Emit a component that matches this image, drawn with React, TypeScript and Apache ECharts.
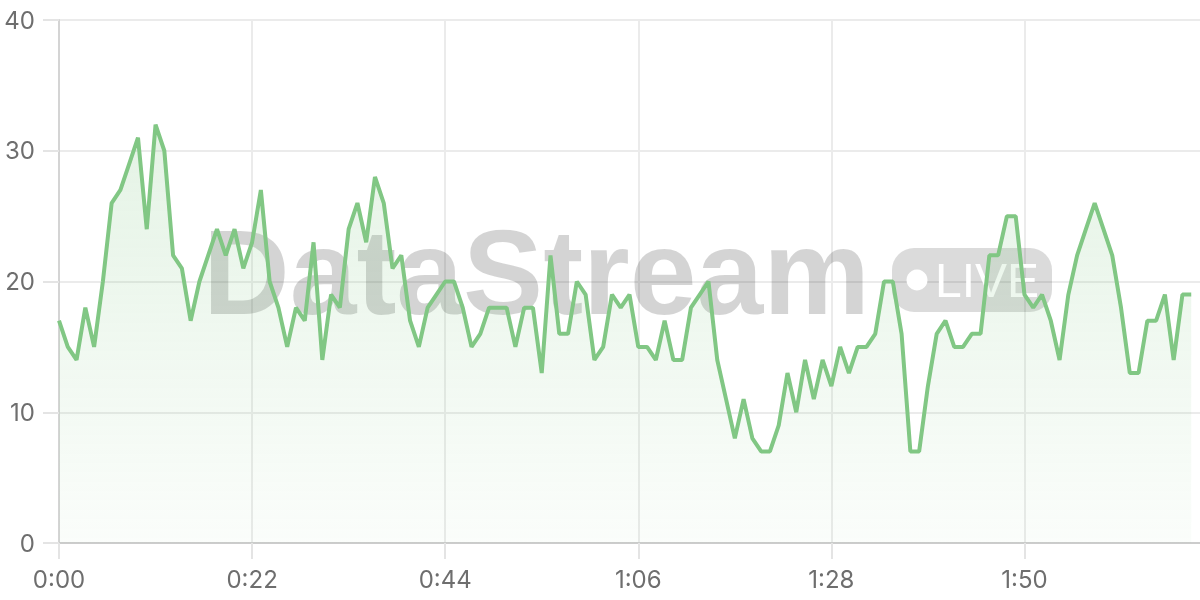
import React, { useEffect, useRef } from "react";
import * as echarts from "echarts";

// One reading per second, starting at 0:00
const VALUES: number[] = [
  17, 15, 14, 18, 15, 20, 26, 27, 29, 31,
  24, 32, 30, 22, 21, 17, 20, 22, 24, 22,
  24, 21, 23, 27, 20, 18, 15, 18, 17, 23,
  14, 19, 18, 24, 26, 23, 28, 26, 21, 22,
  17, 15, 18, 19, 20, 20, 18, 15, 16, 18,
  18, 18, 15, 18, 18, 13, 22, 16, 16, 20,
  19, 14, 15, 19, 18, 19, 15, 15, 14, 17,
  14, 14, 18, 19, 20, 14, 11, 8, 11, 8,
  7, 7, 9, 13, 10, 14, 11, 14, 12, 15,
  13, 15, 15, 16, 20, 20, 16, 7, 7, 12,
  16, 17, 15, 15, 16, 16, 22, 22, 25, 25,
  19, 18, 19, 17, 14, 19, 22, 24, 26, 24,
  22, 18, 13, 13, 17, 17, 19, 14, 19, 19,
];

// Time axis spans 0:00 .. 2:10 (one slot beyond the last reading)
const AXIS_SECONDS = 131;
const CATEGORIES: string[] = Array.from({ length: AXIS_SECONDS }, (_, s) =>
  `${Math.floor(s / 60)}:${String(s % 60).padStart(2, "0")}`
);
const LABEL_STEP = 22; // labels at 0:00, 0:22, 0:44, 1:06, 1:28, 1:50

const Y_MIN = 0;
const Y_MAX = 40;
const Y_STEP = 10;

const WATERMARK = "DataStream";
const BADGE = "LIVE";

const LINE_COLOR = "#81c784";
const LABEL_COLOR = "#6e6e6e";
const LABEL_FONT = "Inter, 'Noto Sans', sans-serif";

export default function App() {
  const ref = useRef<HTMLDivElement>(null);

  useEffect(() => {
    if (!ref.current) return;
    const chart = echarts.init(ref.current, null, { renderer: "svg" });
    chart.setOption({
      animation: false,
      grid: { left: 59, right: 0, top: 20, bottom: 57, containLabel: false },
      xAxis: {
        type: "category",
        data: CATEGORIES,
        boundaryGap: false,
        axisLine: { show: true, lineStyle: { color: "#cccccc", width: 2 } },
        axisTick: {
          show: true,
          length: 16,
          interval: LABEL_STEP - 1,
          lineStyle: { color: "#e4e4e4", width: 2 },
        },
        axisLabel: {
          interval: LABEL_STEP - 1,
          margin: 24,
          color: LABEL_COLOR,
          fontSize: 24,
          fontFamily: LABEL_FONT,
        },
        splitLine: {
          show: true,
          interval: LABEL_STEP - 1,
          lineStyle: { color: "#ebebeb", width: 2 },
        },
      },
      yAxis: {
        type: "value",
        min: Y_MIN,
        max: Y_MAX,
        interval: Y_STEP,
        axisLine: { show: true, lineStyle: { color: "#d4d4d4", width: 2 } },
        axisTick: { show: true, length: 16, lineStyle: { color: "#e4e4e4", width: 2 } },
        axisLabel: {
          margin: 24,
          color: LABEL_COLOR,
          fontSize: 24,
          fontFamily: LABEL_FONT,
        },
        splitLine: { show: true, lineStyle: { color: "#ebebeb", width: 2 } },
      },
      graphic: [
        {
          type: "text",
          x: 203,
          y: 272,
          z: 1,
          silent: true,
          style: {
            text: WATERMARK,
            font: "bold 120px 'Liberation Sans', Arial, sans-serif",
            fill: "rgba(0,0,0,0.17)",
            textAlign: "left",
            textVerticalAlign: "middle",
          },
        },
        {
          type: "rect",
          z: 1,
          silent: true,
          shape: { x: 892, y: 248, width: 160, height: 64, r: 22 },
          style: { fill: "rgba(0,0,0,0.14)" },
        },
        {
          type: "circle",
          z: 1,
          silent: true,
          shape: { cx: 917, cy: 280, r: 10.5 },
          style: { fill: "#ffffff" },
        },
        {
          type: "text",
          x: 935,
          y: 280,
          z: 1,
          silent: true,
          style: {
            text: BADGE,
            font: "48px 'Liberation Sans', Arial, sans-serif",
            fill: "#ffffff",
            textAlign: "left",
            textVerticalAlign: "middle",
          },
        },
      ],
      series: [
        {
          type: "line",
          data: VALUES,
          showSymbol: false,
          symbol: "none",
          z: 3,
          lineStyle: { color: LINE_COLOR, width: 4 },
          itemStyle: { color: LINE_COLOR },
          areaStyle: {
            color: new echarts.graphic.LinearGradient(0, 0, 0, 1, [
              { offset: 0, color: "rgba(129,199,132,0.30)" },
              { offset: 1, color: "rgba(129,199,132,0.05)" },
            ]),
          },
        },
      ],
    });
    return () => chart.dispose();
  }, []);

  return (
    <div
      ref={ref}
      style={{ position: "fixed", left: 0, top: 0, width: 1200, height: 600 }}
    />
  );
}
